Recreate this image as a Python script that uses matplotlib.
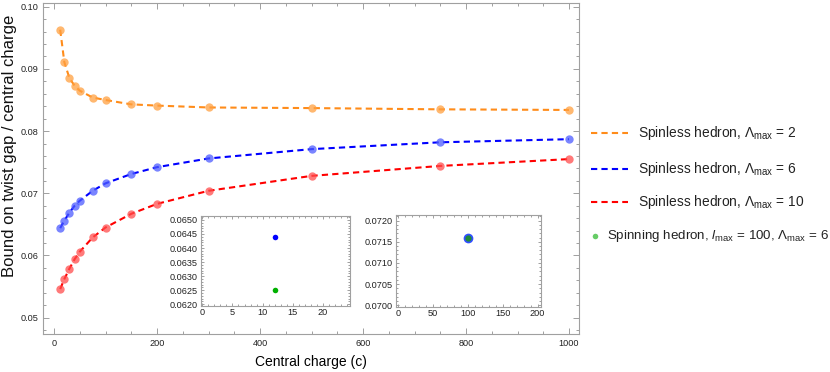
import numpy as np
import matplotlib.pyplot as plt
from matplotlib.lines import Line2D
from matplotlib.ticker import MultipleLocator

plt.rcParams['font.family'] = ['Liberation Sans', 'DejaVu Sans']
plt.rcParams['mathtext.fontset'] = 'custom'
plt.rcParams['mathtext.rm'] = 'Liberation Sans'
plt.rcParams['mathtext.it'] = 'Liberation Sans:italic'

# central charges
c = [12, 20, 30, 40, 50, 75, 100, 150, 200, 300, 500, 750, 1000]

# spinless hedron bounds
lam2 = [0.0963, 0.0911, 0.0885, 0.0873, 0.0865, 0.0854, 0.0850, 0.0843, 0.0841,
        0.0838, 0.0837, 0.0835, 0.0834]
lam6 = [0.0644, 0.0656, 0.0669, 0.0680, 0.0688, 0.0704, 0.0716, 0.0731, 0.0742,
        0.0756, 0.0771, 0.0782, 0.0787]
lam10 = [0.0546, 0.0562, 0.0579, 0.0594, 0.0606, 0.0629, 0.0645, 0.0667, 0.0683,
         0.0704, 0.0728, 0.0744, 0.0755]

# insets: spinless vs spinning at c=12 and c=100
inset1_c = 12
inset1_spinless = 0.0644
inset1_spinning = 0.0625
inset2_c = 100
inset2_spinless = 0.0716
inset2_spinning = 0.0716

series = [
    (lam2, '#ff8c1a', '#ffa040', r'Spinless hedron, $\Lambda_{\rm max}$ = 2'),
    (lam6, '#0000ff', '#4d5cff', r'Spinless hedron, $\Lambda_{\rm max}$ = 6'),
    (lam10, '#ff0000', '#ff4d4d', r'Spinless hedron, $\Lambda_{\rm max}$ = 10'),
]

frame_col = '#a0a0a0'


def style_axes(ax, fs):
    for s in ax.spines.values():
        s.set_color(frame_col)
        s.set_linewidth(0.8)
    ax.tick_params(which='both', direction='in', top=True, right=True,
                   color=frame_col, labelsize=fs, labelcolor='#222222', width=0.7)
    ax.tick_params(which='major', length=4)
    ax.tick_params(which='minor', length=2)


fig = plt.figure(figsize=(8.3, 3.72), dpi=100)
ax = fig.add_axes([0.0518, 0.1022, 0.6458, 0.8898])

for vals, lc, pc, lab in series:
    ax.plot(c, vals, ls=(0, (3, 2)), color=lc, lw=1.5, zorder=2)
    ax.plot(c, vals, 'o', color=pc, ms=6, alpha=0.75, mec='none', zorder=3)

ax.set_xlim(-21.4, 1019.4)
ax.set_ylim(0.04738, 0.1006)
ax.xaxis.set_major_locator(MultipleLocator(200))
ax.xaxis.set_minor_locator(MultipleLocator(50))
ax.yaxis.set_major_locator(MultipleLocator(0.01))
ax.yaxis.set_minor_locator(MultipleLocator(0.002))
ax.yaxis.set_major_formatter(plt.FuncFormatter(lambda v, p: f'{v:.2f}'))
style_axes(ax, 6.6)
ax.set_xlabel('Central charge (c)', fontsize=10, labelpad=5)
fig.text(9.5 / 830, 1 - 146 / 372, 'Bound on twist gap / central charge', fontsize=12,
         rotation=90, ha='center', va='center', color='#111111')

# inset 1
ax1 = fig.add_axes([200.7 / 830, 1 - 305.7 / 372, 149.3 / 830, 90 / 372])
ax1.plot([inset1_c], [inset1_spinless], 'o', color='#0000ff', ms=4, mec='none')
ax1.plot([inset1_c], [inset1_spinning], 'o', color='#00b000', ms=4, mec='none')
ax1.set_xlim(-0.27, 24.5)
ax1.set_ylim(0.06195, 0.06515)
ax1.xaxis.set_major_locator(MultipleLocator(5))
ax1.xaxis.set_minor_locator(MultipleLocator(1))
ax1.yaxis.set_major_locator(MultipleLocator(0.0005))
ax1.yaxis.set_minor_locator(MultipleLocator(0.0001))
ax1.yaxis.set_major_formatter(plt.FuncFormatter(lambda v, p: f'{v:.4f}'))
style_axes(ax1, 6.6)
ax1.tick_params(which='major', length=2.5, pad=2)
ax1.tick_params(which='minor', length=1.3)

# inset 2
ax2 = fig.add_axes([396 / 830, 1 - 306.7 / 372, 145 / 830, 91.7 / 372])
ax2.plot([inset2_c], [inset2_spinless], 'o', color='#1a3cff', ms=7, mec='none', alpha=0.9)
ax2.plot([inset2_c], [inset2_spinning], 'o', color='#1f8a3a', ms=4.5, mec='none')
ax2.set_xlim(-2.9, 204.8)
ax2.set_ylim(0.06997, 0.07213)
ax2.xaxis.set_major_locator(MultipleLocator(50))
ax2.xaxis.set_minor_locator(MultipleLocator(10))
ax2.yaxis.set_major_locator(MultipleLocator(0.0005))
ax2.yaxis.set_minor_locator(MultipleLocator(0.0001))
ax2.yaxis.set_major_formatter(plt.FuncFormatter(lambda v, p: f'{v:.4f}'))
style_axes(ax2, 6.6)
ax2.tick_params(which='major', length=2.5, pad=2)
ax2.tick_params(which='minor', length=1.3)

# legend (drawn by hand, Mathematica style)
leg_y = [133, 169, 202.5, 236]
for (vals, lc, pc, lab), yy in zip(series, leg_y[:3]):
    yf = 1 - yy / 372
    fig.add_artist(Line2D([591 / 830, 628 / 830], [yf, yf], color=lc, lw=1.5,
                          ls=(0, (3, 2))))
    fig.text(638 / 830, yf, lab, fontsize=9.9, va='center', ha='left', color='#222222')
yf = 1 - leg_y[3] / 372
fig.add_artist(Line2D([595 / 830], [yf], marker='o', color='#66cc66', ms=4, mec='none'))
fig.text(607 / 830, yf, r'Spinning hedron, $\mathit{l}_{\rm max}$ = 100, $\Lambda_{\rm max}$ = 6',
         fontsize=9.6, va='center', ha='left', color='#222222')

fig.savefig('out.png', dpi=100)
